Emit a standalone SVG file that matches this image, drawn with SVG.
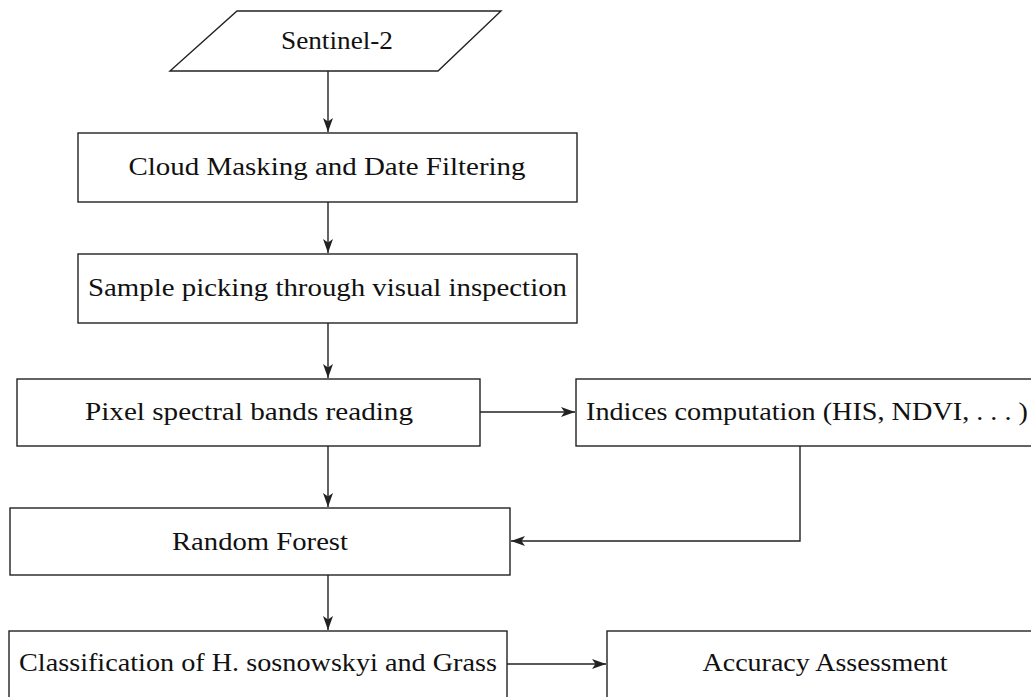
<svg xmlns="http://www.w3.org/2000/svg" width="1031" height="697" viewBox="0 0 1031 697">
  <style>
    .box { fill: #ffffff; stroke: #222222; stroke-width: 1.4; }
    .lbl { font-family: "Liberation Serif", "DejaVu Serif", serif; font-size: 26px; fill: #111111; text-anchor: middle; }
    .edge { fill: none; stroke: #222222; stroke-width: 1.4; marker-end: url(#arrow); }
  </style>
  <defs>
    <marker id="arrow" viewBox="-15 -6 16 12" refX="0" refY="0" markerWidth="16" markerHeight="12" markerUnits="userSpaceOnUse" orient="auto">
      <path d="M0,0 L-14,-5 L-10.5,0 L-14,5 Z" fill="#222222"/>
    </marker>
  </defs>
  <rect width="1031" height="697" fill="#ffffff"/>

  <g id="connectors">
    <line class="edge" x1="328" y1="71" x2="328" y2="132"/>
    <line class="edge" x1="328" y1="202" x2="328" y2="253"/>
    <line class="edge" x1="328" y1="323" x2="328" y2="378"/>
    <line class="edge" x1="480" y1="412" x2="575" y2="412"/>
    <line class="edge" x1="328" y1="446" x2="328" y2="507"/>
    <polyline class="edge" points="800,446 800,541 511,541"/>
    <line class="edge" x1="328" y1="575" x2="328" y2="630"/>
    <line class="edge" x1="507" y1="664" x2="606" y2="664"/>
  </g>

  <g id="sentinel2">
    <polygon class="box" points="237,11 501,11 438,71 170,71"/>
    <text class="lbl" x="337" y="49" textLength="112" lengthAdjust="spacingAndGlyphs">Sentinel-2</text>
  </g>
  <g id="cloud-masking">
    <rect class="box" x="78" y="133" width="499" height="69"/>
    <text class="lbl" x="327" y="175" textLength="397" lengthAdjust="spacingAndGlyphs">Cloud Masking and Date Filtering</text>
  </g>
  <g id="sample-picking">
    <rect class="box" x="78" y="254" width="499" height="69"/>
    <text class="lbl" x="327.5" y="296" textLength="479" lengthAdjust="spacingAndGlyphs">Sample picking through visual inspection</text>
  </g>
  <g id="pixel-reading">
    <rect class="box" x="17" y="379" width="463" height="67"/>
    <text class="lbl" x="249" y="420" textLength="328" lengthAdjust="spacingAndGlyphs">Pixel spectral bands reading</text>
  </g>
  <g id="indices">
    <rect class="box" x="576" y="379" width="462" height="67"/>
    <text class="lbl" x="807" y="420" textLength="442" lengthAdjust="spacingAndGlyphs">Indices computation (HIS, NDVI, . . . )</text>
  </g>
  <g id="random-forest">
    <rect class="box" x="10" y="508" width="500" height="67"/>
    <text class="lbl" x="260" y="550" textLength="176" lengthAdjust="spacingAndGlyphs">Random Forest</text>
  </g>
  <g id="classification">
    <rect class="box" x="9" y="631" width="498" height="80"/>
    <text class="lbl" x="258" y="671" textLength="478" lengthAdjust="spacingAndGlyphs">Classification of H. sosnowskyi and Grass</text>
  </g>
  <g id="accuracy">
    <rect class="box" x="607" y="631" width="440" height="80"/>
    <text class="lbl" x="825" y="671" textLength="245" lengthAdjust="spacingAndGlyphs">Accuracy Assessment</text>
  </g>
</svg>
